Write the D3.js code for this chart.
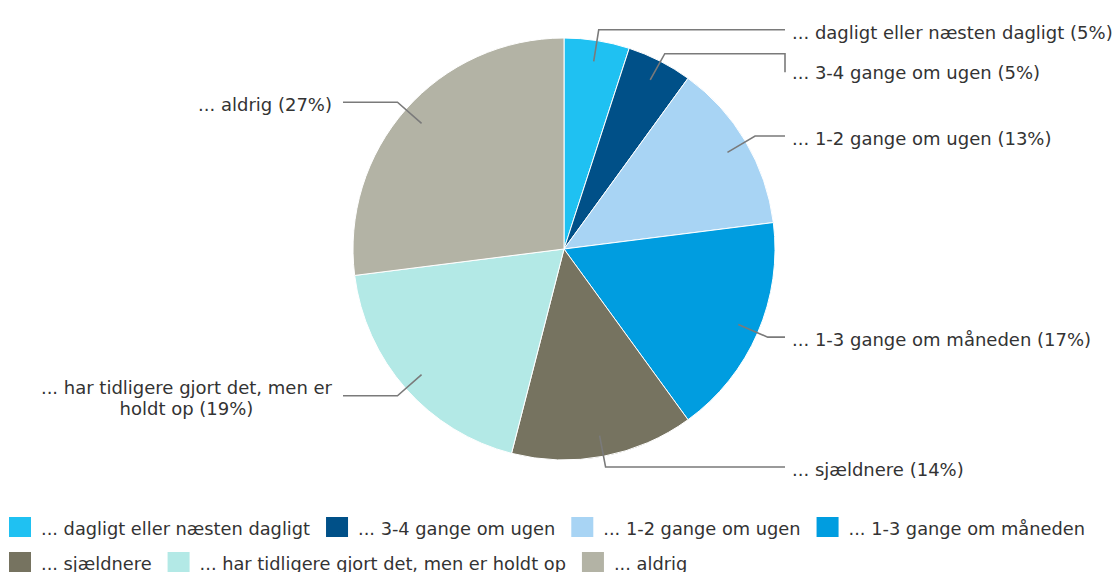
<!DOCTYPE html>
<html lang="da">
<head>
    <meta charset="utf-8" />
    <title>Pie chart</title>
    <script src="https://d3js.org/d3.v7.min.js"></script>
    <style>
        body {
            margin: 0;
            padding: 0;
            background: #fff;
        }
        svg text {
            font-family: "DejaVu Sans", Verdana, sans-serif;
            fill: #333;
        }
    </style>
</head>
<body>
<svg id="chart"></svg>
<script>
    var w = 1115;
    var h = 572;

    // Data
    var categories = [
        "... dagligt eller næsten dagligt",
        "... 3-4 gange om ugen",
        "... 1-2 gange om ugen",
        "... 1-3 gange om måneden",
        "... sjældnere",
        "... har tidligere gjort det, men er holdt op",
        "... aldrig"
    ];
    var values = [5, 5, 13, 17, 14, 19, 27];
    var colors = ["#1fc1f2", "#005088", "#a8d4f4", "#009de0", "#767360", "#b3e9e6", "#b3b3a5"];

    var cx = 564, cy = 249, r = 211;

    var svg = d3.select("#chart")
        .attr("width", w)
        .attr("height", h);

    var pie = d3.pie().sort(null).value(function(d) { return d; });
    var arcs = pie(values);

    var arc = d3.arc().innerRadius(0).outerRadius(r);

    var g = svg.append("g").attr("transform", "translate(" + cx + "," + cy + ")");

    // Slices
    g.selectAll("path.slice")
        .data(arcs)
        .enter().append("path")
        .attr("class", "slice")
        .attr("d", arc)
        .attr("fill", function(d, i) { return colors[i]; })
        .attr("stroke", "#fff")
        .attr("stroke-width", 1);

    // Label positions
    var labels = arcs.map(function(d, i) {
        var a = (d.startAngle + d.endAngle) / 2;
        var right = Math.sin(a) >= 0;
        var y = -(r + 11) * Math.cos(a);
        return {
            i: i,
            a: a,
            right: right,
            x0: 0.9 * r * Math.sin(a),
            y0: -0.9 * r * Math.cos(a),
            ex: (r + 11) * Math.sin(a),
            y: y,
            ty: y + 2.5
        };
    });

    // Push overlapping lines and texts apart on each side
    [true, false].forEach(function(side) {
        var list = labels.filter(function(l) { return l.right === side; })
            .sort(function(p, q) { return p.y - q.y; });
        for (var k = 1; k < list.length; k++) {
            if (list[k].y < list[k - 1].y + 24) list[k].y = list[k - 1].y + 24;
            if (list[k].ty < list[k - 1].ty + 40) list[k].ty = list[k - 1].ty + 40;
        }
    });

    // Leader lines
    g.selectAll("polyline.leader")
        .data(labels)
        .enter().append("polyline")
        .attr("class", "leader")
        .attr("points", function(l) {
            var endX = l.right ? r + 10 : -(r + 10);
            var pts = [[l.x0, l.y0], [l.ex, l.y], [endX, l.y]];
            if (l.ty - 2.5 > l.y + 1) pts.push([endX, l.ty]);
            return pts.join(" ");
        })
        .attr("fill", "none")
        .attr("stroke", "#7a7a7a")
        .attr("stroke-width", 1.6);

    // Label text, wrapped when it does not fit on its side
    labels.forEach(function(l) {
        var txt = categories[l.i] + " (" + values[l.i] + "%)";
        var tx = l.right ? r + 17 : -(r + 21);
        var maxLabelW = l.right ? w - (cx + tx) + 4 : (cx + tx) - 20;
        var t = g.append("text")
            .attr("font-size", "18px")
            .attr("text-anchor", l.right ? "start" : "end");

        var words = txt.split(" ");
        var lines = [];
        var line = [];
        var probe = t.append("tspan");
        words.forEach(function(word) {
            line.push(word);
            probe.text(line.join(" "));
            if (probe.node().getComputedTextLength() > maxLabelW && line.length > 1) {
                line.pop();
                lines.push(line.join(" "));
                line = [word];
            }
        });
        lines.push(line.join(" "));
        probe.remove();

        var lh = 21;
        var top = l.ty - (lines.length - 1) * lh / 2;
        if (lines.length === 1) {
            t.attr("x", tx).attr("y", top).attr("dominant-baseline", "central").text(lines[0]);
        } else {
            // multi-line labels are centred on their widest line
            var widths = lines.map(function(s) {
                t.text(s);
                return t.node().getComputedTextLength();
            });
            t.text(null);
            var mw = d3.max(widths);
            var mx = l.right ? tx + mw / 2 : tx - mw / 2;
            t.attr("text-anchor", "middle");
            lines.forEach(function(s, k) {
                t.append("tspan")
                    .attr("x", mx)
                    .attr("y", top + k * lh)
                    .attr("dominant-baseline", "central")
                    .text(s);
            });
        }
    });

    // Legend, flowing left to right and wrapping
    var legend = svg.append("g").attr("class", "legend");
    var lx = 9, ly = 517, rowH = 35, gap = 16, sqW = 22, sqH = 20;
    categories.forEach(function(c, i) {
        var item = legend.append("g");
        item.append("rect")
            .attr("width", sqW)
            .attr("height", sqH)
            .attr("fill", colors[i]);
        var t = item.append("text")
            .attr("x", sqW + 10)
            .attr("y", sqH / 2 + 1)
            .attr("dominant-baseline", "central")
            .attr("font-size", "17.8px")
            .text(c);
        var iw = sqW + 10 + t.node().getComputedTextLength();
        if (lx + iw > w - 5 && lx > 9) {
            lx = 9;
            ly += rowH;
        }
        item.attr("transform", "translate(" + lx + "," + ly + ")");
        lx += iw + gap;
    });
</script>
</body>
</html>
